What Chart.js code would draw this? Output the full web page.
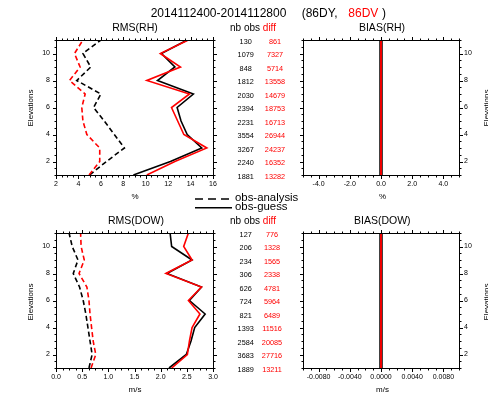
<!DOCTYPE html>
<html><head><meta charset="utf-8">
<script src="https://cdn.jsdelivr.net/npm/chart.js@4/dist/chart.umd.min.js"></script>
<style>
html,body{margin:0;padding:0;background:#fff;}
#wrap{position:relative;width:488px;height:394px;overflow:hidden;font-family:"Liberation Sans",Arial,Helvetica,sans-serif;color:#000;}
canvas{position:absolute;left:0;top:0;}
.c{position:absolute;white-space:pre;line-height:1;transform:translate(-50%,-50%);}
.l{position:absolute;white-space:pre;line-height:1;transform:translateY(-50%);}
.r{color:#ff0000;}
.v{position:absolute;white-space:pre;line-height:1;transform:translate(-50%,-50%) rotate(-90deg);}
svg{position:absolute;left:0;top:0;}
</style></head><body>
<div id="wrap">
<canvas id="c1" width="488" height="394"></canvas>
<canvas id="c2" width="488" height="394"></canvas>
<canvas id="c3" width="488" height="394"></canvas>
<canvas id="c4" width="488" height="394"></canvas>
<svg width="488" height="394">
  <line x1="195" y1="199" x2="233" y2="199" stroke="#000" stroke-width="1.6" stroke-dasharray="8,5"/>
  <line x1="195" y1="207.7" x2="232" y2="207.7" stroke="#000" stroke-width="1.6"/>
</svg>
<div class="l" style="left:150.7px;top:13px;font-size:12px;">2014112400-2014112800</div>
<div class="l" style="left:301.7px;top:13px;font-size:12px;">(86DY,</div>
<div class="l r" style="left:348.3px;top:13px;font-size:12px;">86DV</div>
<div class="l" style="left:382px;top:13px;font-size:12px;">)</div>
<div class="c" style="left:135px;top:27px;font-size:10.5px;">RMS(RH)</div>
<div class="c" style="left:382px;top:27.3px;font-size:10.5px;">BIAS(RH)</div>
<div class="c" style="left:253px;top:28.3px;font-size:10px;">nb obs <span class="r">diff</span></div>
<div class="c" style="left:136px;top:220px;font-size:10.5px;">RMS(DOW)</div>
<div class="c" style="left:382.3px;top:220px;font-size:10.5px;">BIAS(DOW)</div>
<div class="c" style="left:253px;top:220.5px;font-size:10px;">nb obs <span class="r">diff</span></div>
<div class="l" style="left:235px;top:198.3px;font-size:11.4px;">obs-analysis</div>
<div class="l" style="left:235px;top:207.3px;font-size:11.4px;">obs-guess</div>
<div class="c" style="left:135px;top:197px;font-size:8px;">%</div>
<div class="c" style="left:382.5px;top:197px;font-size:8px;">%</div>
<div class="c" style="left:135px;top:390px;font-size:8px;">m/s</div>
<div class="c" style="left:382.5px;top:390px;font-size:8px;">m/s</div>
<div class="v" style="left:30.7px;top:108px;font-size:8px;">Elevations</div>
<div class="v" style="left:30.7px;top:301.7px;font-size:8px;">Elevations</div>
<div class="v" style="left:486.5px;top:108px;font-size:8px;">Elevations</div>
<div class="v" style="left:486.5px;top:301.7px;font-size:8px;">Elevations</div>
</div>
<script>
// ---------- data (indexed by elevation 1..11) ----------
const elevations = [1,2,3,4,5,6,7,8,9,10,11];

const rmsRH_ana_86DY = [5.0, 6.5, 8.1, 7.2, 6.3, 5.35, 6.0, 3.85, 5.1, 4.4, 6.0];
const rmsRH_ana_86DV = [4.95, 5.9, 5.9, 4.75, 4.4, 4.3, 4.6, 3.2, 4.15, 3.65, 4.4];
const rmsRH_ges_86DY = [8.9, 12.2, 15.0, 13.7, 13.15, 12.8, 14.25, 11.05, 12.6, 11.4, 13.7];
const rmsRH_ges_86DV = [10.1, 12.6, 15.45, 13.4, 12.85, 12.3, 13.9, 10.1, 13.1, 11.3, 13.8];

const biasRH_ana_86DY = [0,0,0,0,0,0,0,0,0,0,0];
const biasRH_ana_86DV = [0,0,0,0,0,0,0,0,0,0,0];
const biasRH_ges_86DY = [0,0,0,0,0,0,0,0,0,0,0];
const biasRH_ges_86DV = [0,0,0,0,0,0,0,0,0,0,0];

const rmsDOW_ana_86DY = [0.63, 0.69, 0.65, 0.61, 0.57, 0.52, 0.45, 0.33, 0.42, 0.31, 0.25];
const rmsDOW_ana_86DV = [0.67, 0.76, 0.71, 0.68, 0.65, 0.63, 0.59, 0.44, 0.54, 0.48, 0.47];
const rmsDOW_ges_86DY = [2.16, 2.49, 2.58, 2.65, 2.85, 2.55, 2.78, 2.12, 2.6, 2.21, 2.18];
const rmsDOW_ges_86DV = [2.21, 2.51, 2.55, 2.6, 2.75, 2.53, 2.78, 2.1, 2.6, 2.44, 2.53];

const biasDOW_ana_86DY = [0,0,0,0,0,0,0,0,0,0,0];
const biasDOW_ana_86DV = [0,0,0,0,0,0,0,0,0,0,0];
const biasDOW_ges_86DY = [0,0,0,0,0,0,0,0,0,0,0];
const biasDOW_ges_86DV = [0,0,0,0,0,0,0,0,0,0,0];

const nbObsRH  = [1881, 2240, 3267, 3554, 2231, 2394, 2030, 1812, 848, 1079, 130];
const diffRH   = [13282, 16352, 24237, 26944, 16713, 18753, 14679, 13558, 5714, 7327, 861];
const nbObsDOW = [1889, 3683, 2584, 1393, 821, 724, 626, 306, 234, 206, 127];
const diffDOW  = [13211, 27716, 20085, 11516, 6489, 5964, 4781, 2338, 1565, 1328, 776];

// ---------- tick labels ----------
const yTickValues = [2,4,6,8,10];
const yTickLabels = ['2','4','6','8','10'];
const xRmsRHValues = [2,4,6,8,10,12,14,16];
const xRmsRHLabels = ['2','4','6','8','10','12','14','16'];
const xBiasRHValues = [-4,-2,0,2,4];
const xBiasRHLabels = ['-4.0','-2.0','0.0','2.0','4.0'];
const xRmsDOWValues = [0,0.5,1,1.5,2,2.5,3];
const xRmsDOWLabels = ['0.0','0.5','1.0','1.5','2.0','2.5','3.0'];
const xBiasDOWValues = [-0.008,-0.004,0,0.004,0.008];
const xBiasDOWLabels = ['-0.0080','-0.0040','0.0000','0.0040','0.0080'];

// ---------- rendering ----------
const FONT = '"Liberation Sans", Arial, Helvetica, sans-serif';
Chart.defaults.font.family = FONT;
Chart.defaults.color = '#000';
const RED = '#ff0000', BLACK = '#000000';

function series(vals, color, dashed, width) {
  return {
    data: elevations.map((e, i) => ({x: vals[i], y: e})),
    borderColor: color, backgroundColor: color,
    borderWidth: width || 1.6, borderDash: dashed ? [5, 3] : [],
    showLine: true, pointRadius: 0, fill: false, tension: 0
  };
}

const framePlugin = {
  id: 'frame',
  afterDatasetsDraw(chart, args, o) {
    const ctx = chart.ctx, a = chart.chartArea, x = chart.scales.x, y = chart.scales.y;
    const L = Math.round(a.left) + 0.5, R = Math.round(a.right) + 0.5;
    const T = Math.round(a.top) + 0.5, B = Math.round(a.bottom) + 0.5;
    const isMajor = (arr, v) => arr.some(m => Math.abs(m - v) < 1e-9);
    ctx.save();
    ctx.strokeStyle = '#000'; ctx.lineWidth = 1; ctx.setLineDash([]);
    ctx.strokeRect(L, T, R - L, B - T);
    ctx.beginPath();
    const nx = Math.round((x.max - x.min) / o.xStep);
    for (let i = 0; i <= nx; i++) {
      const v = x.min + i * o.xStep;
      const len = isMajor(o.xMajors, v) ? 3.5 : 2;
      const px = Math.round(x.getPixelForValue(v)) + 0.5;
      ctx.moveTo(px, B); ctx.lineTo(px, B + len);
      ctx.moveTo(px, T); ctx.lineTo(px, T - len);
    }
    const ny = Math.round((y.max - y.min) / o.yStep);
    for (let i = 0; i <= ny; i++) {
      const v = y.min + i * o.yStep;
      const len = isMajor(o.yMajors, v) ? 3.5 : 2;
      const py = Math.round(y.getPixelForValue(v)) + 0.5;
      ctx.moveTo(L, py); ctx.lineTo(L - len, py);
      ctx.moveTo(R, py); ctx.lineTo(R + len, py);
    }
    ctx.stroke();
    ctx.restore();
  }
};

function columnsPlugin(nb, diff, xNb, xDiff) {
  return {
    id: 'cols',
    afterDraw(chart) {
      const ctx = chart.ctx, y = chart.scales.y;
      ctx.save();
      ctx.font = '7.3px ' + FONT;
      ctx.textAlign = 'center'; ctx.textBaseline = 'middle';
      elevations.forEach((e, i) => {
        const py = y.getPixelForValue(e) + 1.5;
        ctx.fillStyle = '#000'; ctx.fillText(String(nb[i]), xNb, py);
        ctx.fillStyle = RED; ctx.fillText(String(diff[i]), xDiff, py);
      });
      ctx.restore();
    }
  };
}

// area: desired chart area {l,t,r,b}; axis boxes get fixed sizes so labels are not clipped
function makeChart(id, area, xCfg, yRight, datasets, extra) {
  const X_H = 16, Y_W = 24;
  const pad = {
    top: area.t,
    bottom: 394 - area.b - X_H,
    left: yRight ? area.l : area.l - Y_W,
    right: yRight ? 488 - area.r - Y_W : 488 - area.r
  };
  return new Chart(document.getElementById(id), {
    type: 'scatter',
    data: {datasets},
    options: {
      responsive: false, animation: false, devicePixelRatio: 1, events: [],
      layout: {padding: pad},
      plugins: {
        legend: {display: false}, tooltip: {enabled: false},
        frame: {xStep: xCfg.step, xMajors: xCfg.values, yStep: 0.5, yMajors: yTickValues}
      },
      scales: {
        x: {
          type: 'linear', position: 'bottom', min: xCfg.min, max: xCfg.max,
          afterBuildTicks: s => { s.ticks = xCfg.values.map(v => ({value: v})); },
          ticks: {callback: (v, i) => xCfg.labels[i], font: {size: 7}, padding: 5,
                  maxRotation: 0, minRotation: 0, autoSkip: false, color: '#000'},
          grid: {display: false, drawTicks: false}, border: {display: false},
          afterFit: s => { s.height = X_H; }
        },
        y: {
          type: 'linear', position: yRight ? 'right' : 'left', min: 1, max: 11,
          afterBuildTicks: s => { s.ticks = yTickValues.map(v => ({value: v})); },
          ticks: {callback: (v, i) => yTickLabels[i], font: {size: 7},
                  padding: yRight ? 5 : 6, autoSkip: false, color: '#000'},
          grid: {display: false, drawTicks: false}, border: {display: false},
          afterFit: s => { s.width = Y_W; }
        }
      }
    },
    plugins: [framePlugin].concat(extra || [])
  });
}

makeChart('c1', {l: 56, t: 40, r: 213, b: 175},
  {min: 2, max: 16, step: 0.5, values: xRmsRHValues, labels: xRmsRHLabels}, false,
  [series(rmsRH_ges_86DV, RED, false), series(rmsRH_ana_86DV, RED, true),
   series(rmsRH_ges_86DY, BLACK, false), series(rmsRH_ana_86DY, BLACK, true)],
  [columnsPlugin(nbObsRH, diffRH, 245.7, 275)]);

makeChart('c2', {l: 303, t: 40, r: 459, b: 175},
  {min: -5, max: 5, step: 0.5, values: xBiasRHValues, labels: xBiasRHLabels}, true,
  [series(biasRH_ges_86DV, RED, false, 1.5), series(biasRH_ana_86DV, RED, false, 1.5),
   series(biasRH_ges_86DY, BLACK, false, 3), series(biasRH_ana_86DY, BLACK, false, 3)]);

makeChart('c3', {l: 56, t: 233, r: 213, b: 368},
  {min: 0, max: 3, step: 0.125, values: xRmsDOWValues, labels: xRmsDOWLabels}, false,
  [series(rmsDOW_ges_86DV, RED, false), series(rmsDOW_ana_86DV, RED, true),
   series(rmsDOW_ges_86DY, BLACK, false), series(rmsDOW_ana_86DY, BLACK, true)],
  [columnsPlugin(nbObsDOW, diffDOW, 245.7, 272)]);

makeChart('c4', {l: 303, t: 233, r: 459, b: 368},
  {min: -0.01, max: 0.01, step: 0.001, values: xBiasDOWValues, labels: xBiasDOWLabels}, true,
  [series(biasDOW_ges_86DV, RED, false, 1.5), series(biasDOW_ana_86DV, RED, false, 1.5),
   series(biasDOW_ges_86DY, BLACK, false, 3), series(biasDOW_ana_86DY, BLACK, false, 3)]);
</script>
</body></html>
